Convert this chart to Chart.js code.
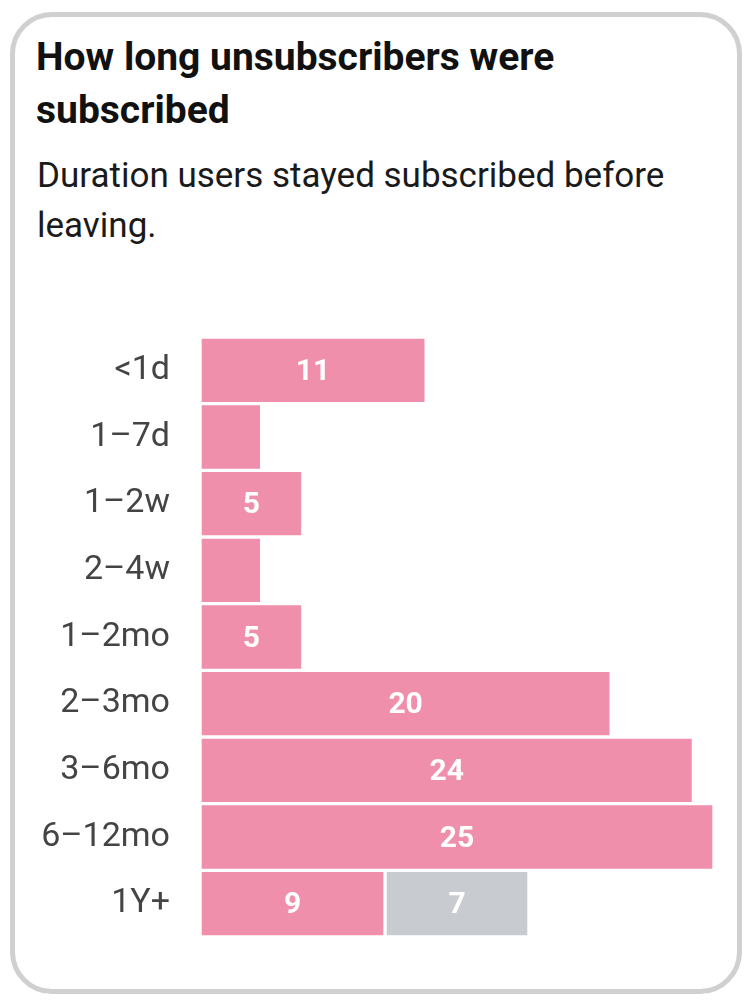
<!DOCTYPE html>
<html>
<head>
<meta charset="utf-8">
<script src="https://cdn.jsdelivr.net/npm/chart.js@4.4.1/dist/chart.umd.min.js"></script>
<style>
  html, body { margin: 0; padding: 0; background: #fff; }
  body { width: 754px; height: 1007px; position: relative; font-family: Roboto, "Noto Sans", sans-serif; }
  .card {
    position: absolute; left: 10px; top: 12px; width: 722px; height: 972px;
    border: 5px solid #d0d0d0; border-radius: 42px; background: #fff;
  }
  h1 {
    position: absolute; left: 36px; top: 31px; margin: 0; width: 640px;
    font-size: 39px; line-height: 53px; font-weight: 700; color: #111;
  }
  p.sub {
    position: absolute; left: 37px; top: 151px; margin: 0; width: 680px;
    font-size: 35px; line-height: 50px; font-weight: 400; color: #1a1a1a;
  }
  .wrap { position: absolute; left: 20px; top: 330px; width: 694px; height: 614px; }
</style>
</head>
<body>
<div class="card"></div>
<h1>How long unsubscribers were subscribed</h1>
<p class="sub">Duration users stayed subscribed before leaving.</p>
<div class="wrap"><canvas id="durchart"></canvas></div>

<script>
'use strict';

// how long people stayed before unsubscribing
const durations = ['<1d', '1–7d', '1–2w', '2–4w', '1–2mo', '2–3mo', '3–6mo', '6–12mo', '1Y+'];
const mainCounts = [11, 3, 5, 3, 5, 20, 24, 25, 9];
const extraCounts = [0, 0, 0, 0, 0, 0, 0, 0, 7];

const pink = 'rgb(240, 143, 171)';
const grey = 'rgb(200, 203, 208)';

// white numbers in the middle of each bar, skipped when the bar is too short
const barLabels = {
    id: 'barLabels',
    afterDatasetsDraw(chart) {
        const ctx = chart.ctx;
        ctx.save();
        ctx.font = '700 30px Roboto';
        ctx.fillStyle = '#ffffff';
        ctx.textAlign = 'center';
        ctx.textBaseline = 'middle';
        chart.data.datasets.forEach((ds, i) => {
            chart.getDatasetMeta(i).data.forEach((bar, j) => {
                let v = ds.data[j];
                if (!v || v < 4) return;
                let cx = (bar.x + bar.base) / 2;
                ctx.fillText(String(v), cx, bar.y + 2);
            });
        });
        ctx.restore();
    }
};

const config = {
    type: 'bar',
    data: {
        labels: durations,
        datasets: [{
            label: 'Unsubscribed',
            data: mainCounts,
            backgroundColor: pink,
            borderColor: '#ffffff',
            borderWidth: 2,
            borderSkipped: false,
            barPercentage: 1,
            categoryPercentage: 1,
        }, {
            label: 'Other',
            data: extraCounts,
            backgroundColor: grey,
            borderColor: '#ffffff',
            borderWidth: 2,
            borderSkipped: false,
            barPercentage: 1,
            categoryPercentage: 1,
        }]
    },
    options: {
        indexAxis: 'y',
        responsive: true,
        maintainAspectRatio: false,
        animation: false,
        layout: { autoPadding: false, padding: { top: 7, bottom: 7, left: 0, right: 0 } },
        plugins: {
            legend: { display: false },
            tooltip: { enabled: false },
        },
        scales: {
            x: {
                stacked: true,
                min: 0,
                max: 25,
                display: false,
            },
            y: {
                stacked: true,
                grid: { display: false },
                border: { display: false },
                ticks: {
                    color: '#444444',
                    padding: 22,
                    font: { family: 'Roboto', size: 34 },
                },
                afterFit(scale) {
                    scale.width = 180;
                    // no extra room above/below for the tick text
                    scale.paddingTop = 0;
                    scale.paddingBottom = 0;
                },
            }
        }
    },
    plugins: [barLabels]
};

new Chart(document.getElementById('durchart'), config);
</script>
</body>
</html>
